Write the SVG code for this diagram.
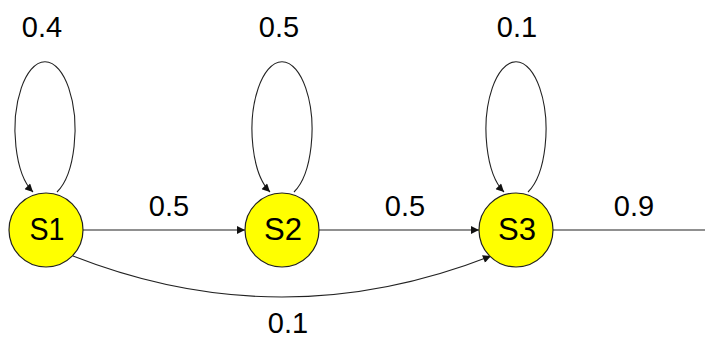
<svg xmlns="http://www.w3.org/2000/svg" width="705" height="340" viewBox="0 0 705 340">
<style>
.node{fill:#ffff00;stroke:#222;stroke-width:1.2}
.nl{font-family:"Liberation Sans",Arial,sans-serif;font-size:32px;fill:#000;text-anchor:middle}
.el{font-family:"Liberation Sans",Arial,sans-serif;font-size:29px;fill:#000;text-anchor:middle}
.edge{fill:none;stroke:#222;stroke-width:1.1}
</style>
<defs>
<marker id="ah" viewBox="0 0 10 10" refX="10" refY="5" markerWidth="9" markerHeight="8" markerUnits="userSpaceOnUse" orient="auto">
<path d="M0,0 L10,5 L0,10 Z" fill="#111"/>
</marker>
</defs>
<rect width="705" height="340" fill="#fff"/>
<g id="connectors">
<path class="edge" d="M57,192 A30,68 0 1 0 33,192" marker-end="url(#ah)"/>
<path class="edge" d="M294,192 A30,68 0 1 0 270,192" marker-end="url(#ah)"/>
<path class="edge" d="M528,192 A30,68 0 1 0 504,192" marker-end="url(#ah)"/>
<line class="edge" x1="83" y1="230" x2="245" y2="230" marker-end="url(#ah)"/>
<line class="edge" x1="319" y1="230" x2="479" y2="230" marker-end="url(#ah)"/>
<line class="edge" x1="553" y1="230" x2="705" y2="230"/>
<path class="edge" d="M73,256 Q282,338 491,256" marker-end="url(#ah)"/>
<text class="el" x="42" y="37">0.4</text>
<text class="el" x="279" y="37">0.5</text>
<text class="el" x="517" y="37">0.1</text>
<text class="el" x="169" y="216">0.5</text>
<text class="el" x="405" y="216">0.5</text>
<text class="el" x="634" y="216">0.9</text>
<text class="el" x="288" y="333">0.1</text>
</g>
<g id="S1"><circle class="node" cx="46" cy="230" r="37"/><text class="nl" x="47" y="240" textLength="35" lengthAdjust="spacingAndGlyphs">S1</text></g>
<g id="S2"><circle class="node" cx="282" cy="230" r="37"/><text class="nl" x="283" y="240" textLength="38" lengthAdjust="spacingAndGlyphs">S2</text></g>
<g id="S3"><circle class="node" cx="516" cy="230" r="37"/><text class="nl" x="517" y="240" textLength="38" lengthAdjust="spacingAndGlyphs">S3</text></g>
</svg>
